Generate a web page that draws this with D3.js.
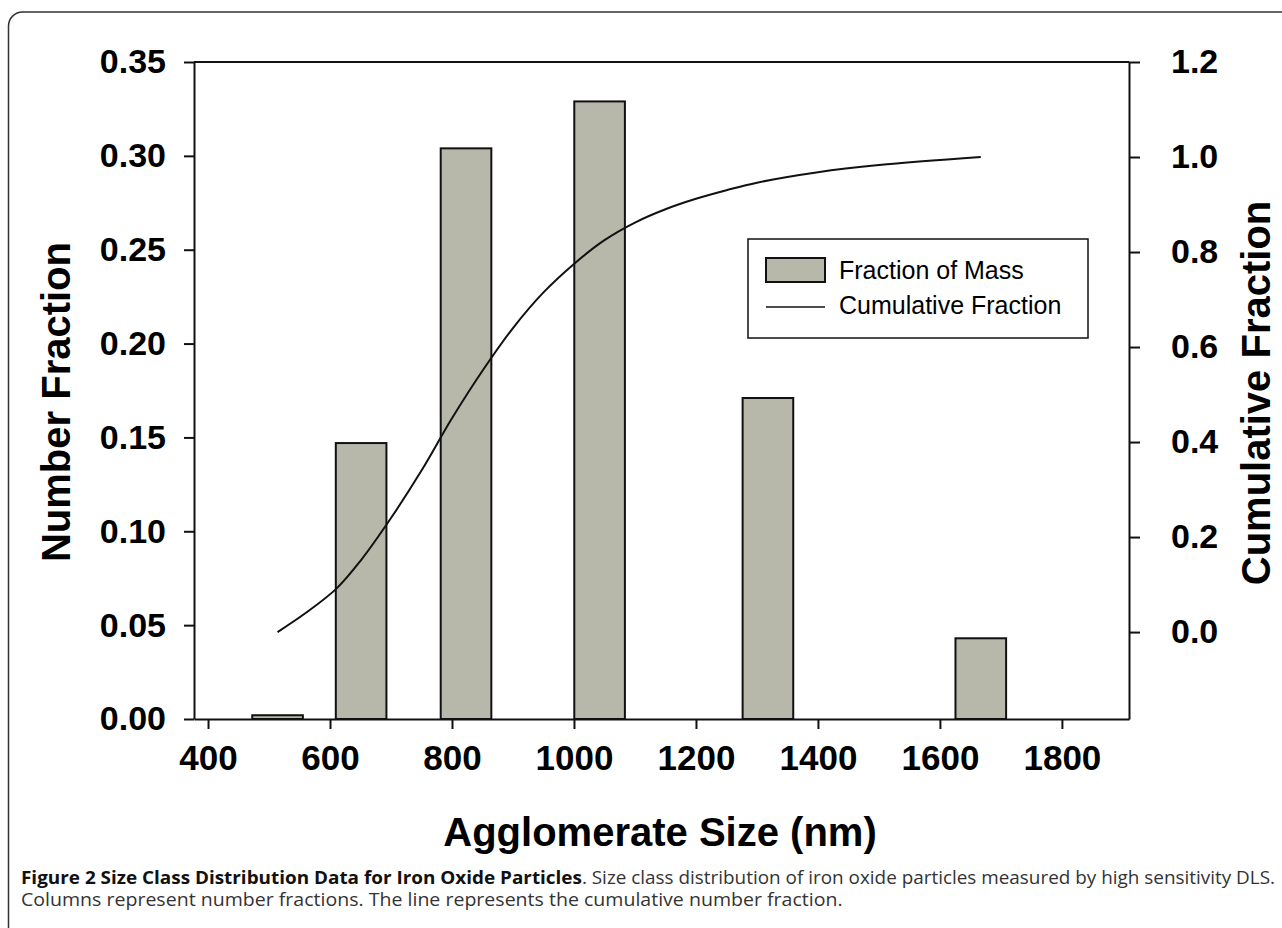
<!DOCTYPE html>
<html>
<head>
<meta charset="utf-8">
<script src="https://cdn.jsdelivr.net/npm/d3@7"></script>
<style>
  body { margin: 0; background: #fff; }
  svg { display: block; }
</style>
</head>
<body>
<div id="chart"></div>
<script>
// bar data: agglomerate size class centre (nm) and number fraction
var sizes = [514, 651, 823, 1042, 1318, 1667];
var fractions = [0.002, 0.147, 0.304, 0.329, 0.171, 0.043];

// cumulative fraction curve
var cumX = [514, 560, 611, 650, 700, 750, 800, 850, 900, 950, 1000, 1050, 1100, 1150, 1200, 1250, 1300, 1400, 1500, 1667];
var cumY = [0.00, 0.04, 0.092, 0.15, 0.24, 0.34, 0.45, 0.55, 0.64, 0.715, 0.775, 0.825, 0.862, 0.89, 0.912, 0.93, 0.946, 0.968, 0.983, 1.00];

var xTicks = [400, 600, 800, 1000, 1200, 1400, 1600, 1800];
var leftTicks = [0, 0.05, 0.10, 0.15, 0.20, 0.25, 0.30, 0.35];
var rightTicks = [0, 0.2, 0.4, 0.6, 0.8, 1.0, 1.2];

var barWidthNm = 83;

var svgWidth = 1282, svgHeight = 928;
var plot = { left: 194, right: 1129, top: 62, bottom: 719 };

var svg = d3.select("#chart").append("svg")
  .attr("width", svgWidth)
  .attr("height", svgHeight);

// page frame with rounded corner (top-left)
svg.append("path")
  .attr("d", "M8.5,928 V26 A14,14 0 0 1 22.5,12 H1282")
  .attr("fill", "none")
  .attr("stroke", "#333")
  .attr("stroke-width", 1.5);

var x = d3.scaleLinear().domain([377, 1910]).range([plot.left, plot.right]);
var yL = d3.scaleLinear().domain([0, 0.35]).range([plot.bottom, plot.top]);
var yR = d3.scaleLinear().domain([-0.183, 1.2]).range([plot.bottom, plot.top]);

var tickFont = "Liberation Sans, Arial, sans-serif";

// bars
svg.append("g").selectAll("rect")
  .data(sizes)
  .enter()
  .append("rect")
  .attr("x", (d, i) => x(d - barWidthNm / 2))
  .attr("width", (d, i) => x(d + barWidthNm / 2) - x(d - barWidthNm / 2))
  .attr("y", (d, i) => yL(fractions[i]))
  .attr("height", (d, i) => yL(0) - yL(fractions[i]))
  .attr("fill", "#b7b7aa")
  .attr("stroke", "#111")
  .attr("stroke-width", 2);

// cumulative curve
var line = d3.line()
  .x((d, i) => x(cumX[i]))
  .y(d => yR(d))
  .curve(d3.curveCatmullRom.alpha(0.5));

svg.append("path")
  .datum(cumY)
  .attr("d", line)
  .attr("fill", "none")
  .attr("stroke", "#111")
  .attr("stroke-width", 2);

// axes
var leftAxis = d3.axisLeft(yL).tickValues(leftTicks).tickSize(10).tickSizeOuter(0)
  .tickFormat(d3.format(".2f")).tickPadding(18);
var rightAxis = d3.axisRight(yR).tickValues(rightTicks).tickSize(11).tickSizeOuter(0)
  .tickFormat(d3.format(".1f")).tickPadding(31);
var bottomAxis = d3.axisBottom(x).tickValues(xTicks).tickSize(10).tickSizeOuter(0)
  .tickFormat(d3.format("d")).tickPadding(16);

function styleAxis(g, size) {
  g.selectAll("path, line").attr("stroke", "#111").attr("stroke-width", 2);
  g.selectAll("text")
    .attr("fill", "#000")
    .style("font-family", tickFont)
    .style("font-weight", "bold")
    .style("font-size", size + "px");
}

svg.append("g")
  .attr("transform", `translate(${plot.left},0)`)
  .call(leftAxis)
  .call(g => styleAxis(g, 34));

svg.append("g")
  .attr("transform", `translate(${plot.right},0)`)
  .call(rightAxis)
  .call(g => styleAxis(g, 34));

svg.append("g")
  .attr("transform", `translate(0,${plot.bottom})`)
  .call(bottomAxis)
  .call(g => styleAxis(g, 35));

// top border line
svg.append("line")
  .attr("x1", plot.left).attr("x2", plot.right)
  .attr("y1", plot.top).attr("y2", plot.top)
  .attr("stroke", "#111").attr("stroke-width", 2);

// axis titles
svg.append("text")
  .attr("transform", "translate(56,402) rotate(-90)")
  .attr("text-anchor", "middle")
  .attr("dominant-baseline", "central")
  .style("font-family", tickFont)
  .style("font-weight", "bold")
  .style("font-size", "40px")
  .text("Number Fraction");

svg.append("text")
  .attr("transform", "translate(1256,393) rotate(-90)")
  .attr("text-anchor", "middle")
  .attr("dominant-baseline", "central")
  .style("font-family", tickFont)
  .style("font-weight", "bold")
  .style("font-size", "40px")
  .text("Cumulative Fraction");

svg.append("text")
  .attr("x", 660)
  .attr("y", 846)
  .attr("text-anchor", "middle")
  .style("font-family", tickFont)
  .style("font-weight", "bold")
  .style("font-size", "40px")
  .text("Agglomerate Size (nm)");

// legend
var legend = svg.append("g").attr("transform", "translate(748,239)");
legend.append("rect")
  .attr("width", 340).attr("height", 99)
  .attr("fill", "#fff").attr("stroke", "#111").attr("stroke-width", 1.5);
legend.append("rect")
  .attr("x", 18).attr("y", 19).attr("width", 59).attr("height", 24)
  .attr("fill", "#b7b7aa").attr("stroke", "#111").attr("stroke-width", 2);
legend.append("line")
  .attr("x1", 18).attr("x2", 77).attr("y1", 68).attr("y2", 68)
  .attr("stroke", "#111").attr("stroke-width", 1.5);
legend.append("text")
  .attr("x", 91).attr("y", 40)
  .style("font-family", tickFont).style("font-size", "25px")
  .text("Fraction of Mass");
legend.append("text")
  .attr("x", 91).attr("y", 75)
  .style("font-family", tickFont).style("font-size", "25px")
  .text("Cumulative Fraction");

// caption
var capFont = "'Open Sans', sans-serif";
var cap1 = svg.append("text")
  .attr("transform", "translate(21,884)")
  .style("font-family", capFont).style("font-size", "17.5px").attr("fill", "#333");
cap1.append("tspan").style("font-weight", "bold").attr("fill", "#111")
  .text("Figure 2 Size Class Distribution Data for Iron Oxide Particles");
cap1.append("tspan")
  .text(". Size class distribution of iron oxide particles measured by high sensitivity DLS.");

var cap2 = svg.append("text")
  .attr("transform", "translate(21,906)")
  .style("font-family", capFont).style("font-size", "17.5px").attr("fill", "#333")
  .text("Columns represent number fractions. The line represents the cumulative number fraction.");

// squeeze caption lines to the widths used in the figure
var k1 = 1255 / cap1.node().getComputedTextLength();
var k2 = 822 / cap2.node().getComputedTextLength();
cap1.attr("transform", `translate(21,884) scale(${k1},1)`);
cap2.attr("transform", `translate(21,906) scale(${k2},1)`);
</script>
</body>
</html>
